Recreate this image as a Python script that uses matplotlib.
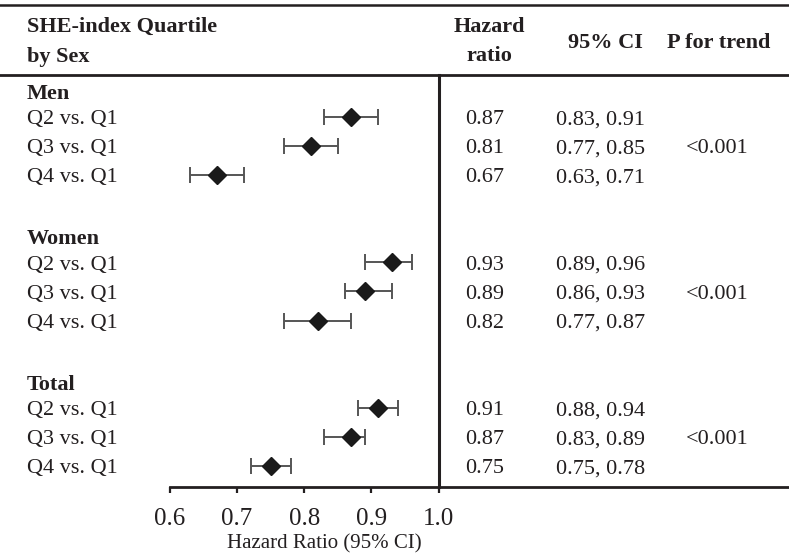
import matplotlib
matplotlib.use("Agg")
import matplotlib.pyplot as plt
from matplotlib.lines import Line2D
from matplotlib.transforms import blended_transform_factory

plt.rcParams['font.family'] = ['Liberation Serif', 'DejaVu Serif']

# data
groups = ['Men', 'Women', 'Total']
comparisons = ['Q2 vs. Q1', 'Q3 vs. Q1', 'Q4 vs. Q1']
hr = [[0.87, 0.81, 0.67],
      [0.93, 0.89, 0.82],
      [0.91, 0.87, 0.75]]
ci_low = [[0.83, 0.77, 0.63],
          [0.89, 0.86, 0.77],
          [0.88, 0.83, 0.72]]
ci_high = [[0.91, 0.85, 0.71],
           [0.96, 0.93, 0.87],
           [0.94, 0.89, 0.78]]
ci_text = [['0.83, 0.91', '0.77, 0.85', '0.63, 0.71'],
           ['0.89, 0.96', '0.86, 0.93', '0.77, 0.87'],
           ['0.88, 0.94', '0.83, 0.89', '0.75, 0.78']]
p_trend = ['<0.001', '<0.001', '<0.001']
xticks = [0.6, 0.7, 0.8, 0.9, 1.0]

W, H = 789, 556
ink = '#231f20'
fig = plt.figure(figsize=(W / 100, H / 100), dpi=100)

# forest axes: x 0.6..1.0 spans pixels 170..438.5, rows between y=75 and y=487
x0, x1 = 170, 438.5
ytop, ybot = 75, 487
ax = fig.add_axes([x0 / W, 1 - ybot / H, (x1 - x0) / W, (ybot - ytop) / H])
row0, step = 87.7, 29.1
ax.set_ylim((ybot - row0) / step, (ytop - row0) / step)
ax.set_xlim(0.6, 1.0)

for s in ['top', 'left']:
    ax.spines[s].set_visible(False)
ax.spines['right'].set_linewidth(2.2)
ax.spines['right'].set_color(ink)
ax.spines['bottom'].set_linewidth(2.0)
ax.spines['bottom'].set_color(ink)
ax.set_yticks([])
ax.set_xticks(xticks)
ax.set_xticklabels([f'{t:.1f}' for t in xticks], fontsize=18, color=ink)
ax.tick_params(axis='x', length=4, width=1.6, color=ink, pad=11)

tx = blended_transform_factory(fig.transFigure, ax.transData)

for g, name in enumerate(groups):
    r0 = g * 5
    ax.text(27 / W, r0 + 0.2, name, transform=tx, fontsize=16, fontweight='bold',
            va='center', ha='left', color=ink)
    for i, comp in enumerate(comparisons):
        r = r0 + 1 + i
        ax.errorbar(hr[g][i], r, xerr=[[hr[g][i] - ci_low[g][i]], [ci_high[g][i] - hr[g][i]]],
                    fmt='D', color='#555555', ecolor='#555555', elinewidth=1.4,
                    capsize=5.5, capthick=1.4, markersize=9.5,
                    markerfacecolor='#1a1a1a', markeredgecolor='#1a1a1a')
        ax.text(27 / W, r + 0.1, comp, transform=tx, fontsize=16, va='center', ha='left', color=ink)
        ax.text(485 / W, r + 0.1, f'{hr[g][i]:.2f}', transform=tx, fontsize=16,
                va='center', ha='center', color=ink)
        ax.text(601 / W, r + 0.1, ci_text[g][i], transform=tx, fontsize=16,
                va='center', ha='center', color=ink)
    ax.text(717 / W, r0 + 2.1, p_trend[g], transform=tx, fontsize=16,
            va='center', ha='center', color=ink)

# header
def fy(py):
    return 1 - py / H

fig.text(27 / W, fy(27), 'SHE-index Quartile', fontsize=16, fontweight='bold', va='center', color=ink)
fig.text(27 / W, fy(57), 'by Sex', fontsize=16, fontweight='bold', va='center', color=ink)
fig.text(489 / W, fy(27), 'Hazard', fontsize=16, fontweight='bold', va='center', ha='center', color=ink)
fig.text(489 / W, fy(56), 'ratio', fontsize=16, fontweight='bold', va='center', ha='center', color=ink)
fig.text(605 / W, fy(43), '95% CI', fontsize=16, fontweight='bold', va='center', ha='center', color=ink)
fig.text(719 / W, fy(43), 'P for trend', fontsize=16, fontweight='bold', va='center', ha='center', color=ink)

fig.text(324 / W, fy(544), 'Hazard Ratio (95% CI)', fontsize=15, va='center', ha='center', color=ink)

# table rules
fig.add_artist(Line2D([0, 1], [fy(5), fy(5)], color=ink, lw=1.8))
fig.add_artist(Line2D([0, 1], [fy(75), fy(75)], color=ink, lw=2.0))
fig.add_artist(Line2D([x1 / W, 1], [fy(487), fy(487)], color=ink, lw=2.0))

fig.savefig('out.png', dpi=100)
